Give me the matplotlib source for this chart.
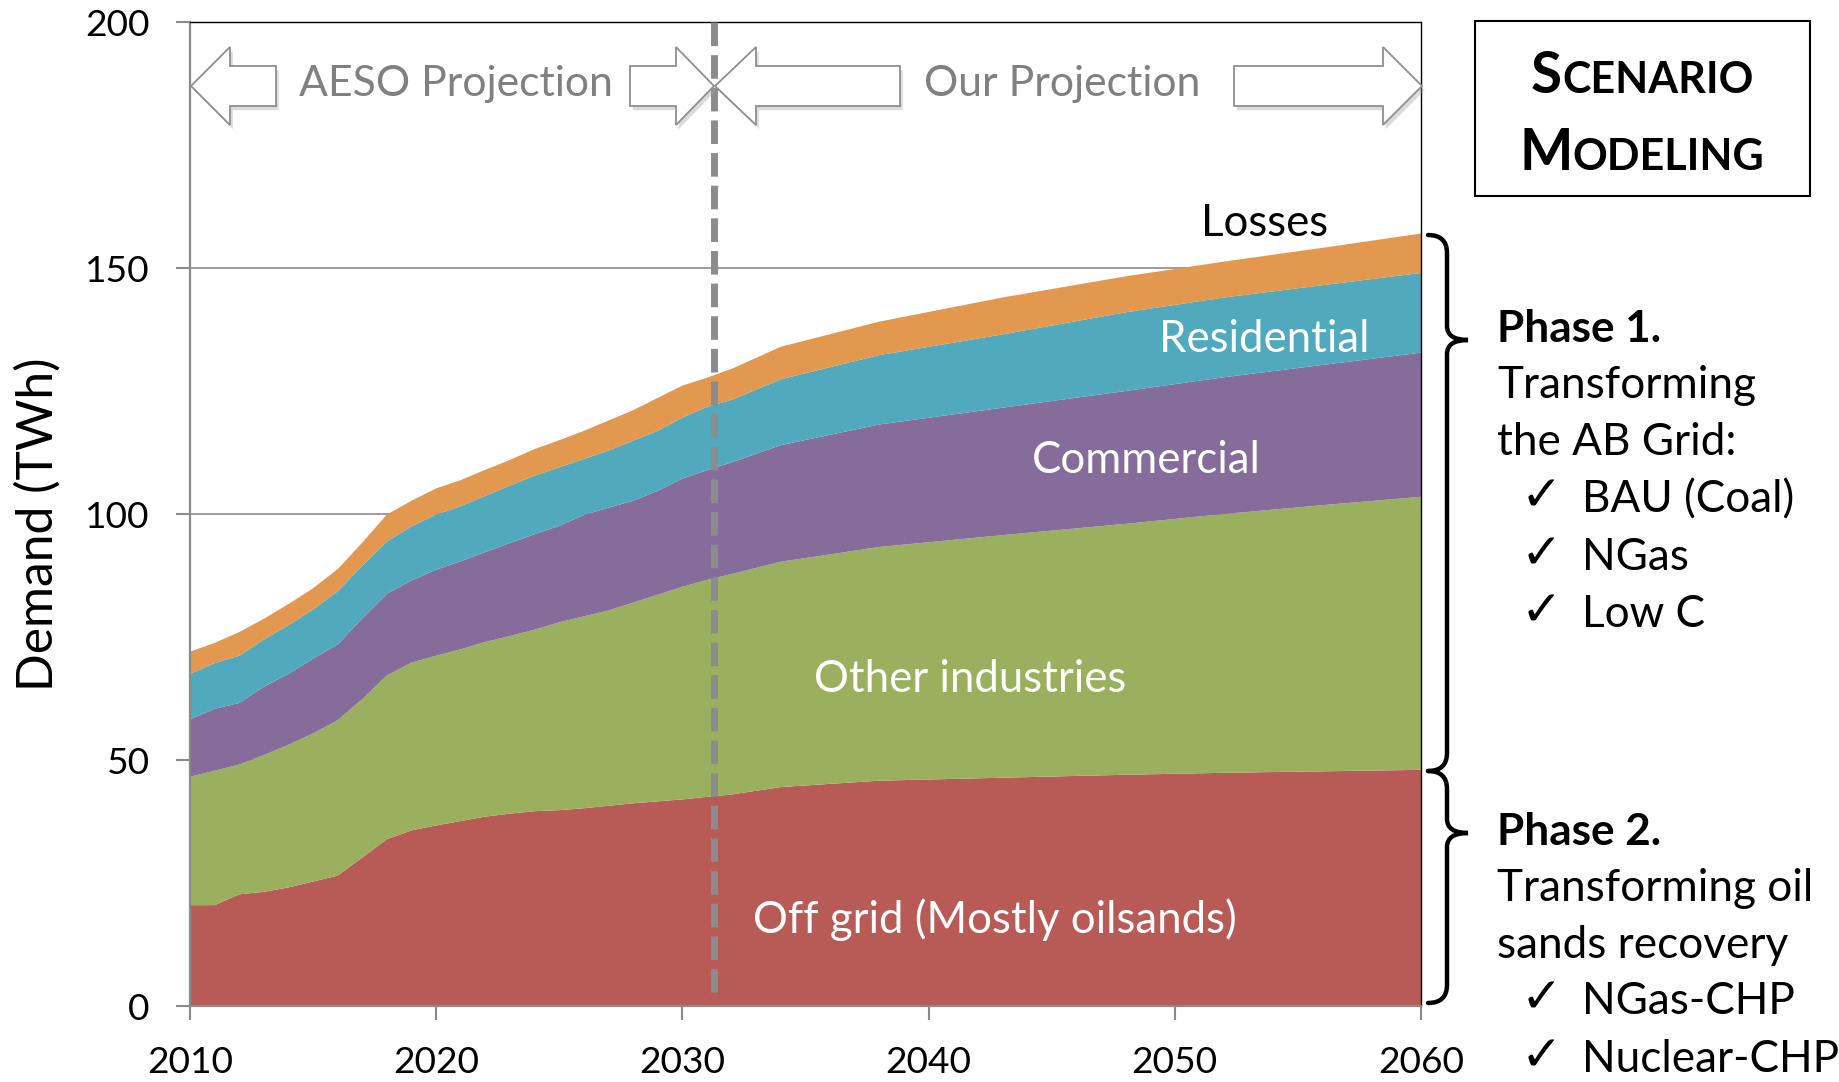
import matplotlib
matplotlib.use('Agg')
import matplotlib.pyplot as plt
from matplotlib.patches import Polygon, Rectangle, PathPatch
from matplotlib.path import Path
import matplotlib.patheffects as pe

# ---------------- data ----------------
years = [2010, 2011, 2012, 2013, 2014, 2015, 2016, 2017, 2018, 2019, 2020,
         2021, 2022, 2023, 2024, 2025, 2026, 2027, 2028, 2029, 2030, 2031,
         2032, 2034, 2038, 2043, 2048, 2052, 2056, 2060]
off_grid = [20.5, 20.5, 22.7, 23.2, 24.1, 25.3, 26.5, 30.2, 33.9, 35.7, 36.7,
            37.6, 38.5, 39.1, 39.6, 39.8, 40.2, 40.7, 41.2, 41.6, 42.0, 42.5,
            43.0, 44.5, 45.8, 46.4, 47.0, 47.4, 47.7, 48.0]
other_industries = [26.1, 27.3, 26.4, 27.8, 29.0, 30.1, 31.6, 32.2, 33.3, 34.1, 34.5,
                    34.9, 35.5, 36.1, 36.9, 38.2, 39.0, 39.7, 40.8, 42.0, 43.2, 44.1,
                    44.8, 45.8, 47.5, 49.3, 51.0, 52.6, 54.1, 55.5]
commercial = [11.7, 12.6, 12.5, 13.9, 14.4, 15.2, 15.4, 16.4, 16.6, 16.7, 17.5,
              17.9, 18.3, 18.9, 19.4, 19.6, 20.6, 20.9, 20.7, 21.1, 22.0, 22.3,
              22.7, 23.7, 24.9, 25.9, 27.0, 27.8, 28.5, 29.3]
residential = [9.2, 9.3, 9.6, 9.6, 9.9, 10.0, 10.8, 10.7, 10.6, 11.0, 11.2,
               11.2, 11.4, 11.7, 11.9, 11.9, 11.4, 11.6, 12.2, 12.2, 12.4, 12.9,
               12.7, 13.4, 14.1, 14.9, 16.0, 16.2, 16.2, 16.2]
losses = [4.5, 4.1, 4.8, 4.2, 4.3, 4.3, 4.5, 4.7, 5.5, 5.2, 5.3,
          5.3, 5.3, 5.2, 5.4, 5.5, 5.7, 6.1, 6.2, 6.7, 6.5, 5.9,
          6.3, 6.6, 6.8, 7.5, 7.3, 7.3, 7.6, 8.0]
series_names = ['Off grid (Mostly oilsands)', 'Other industries', 'Commercial',
                'Residential', 'Losses']
colors = ['#B85B56', '#9BB05F', '#856C9B', '#51A9BE', '#E2984F']
x_ticks = [2010, 2020, 2030, 2040, 2050, 2060]
y_ticks = [0, 50, 100, 150, 200]
split_year = 2031.3
y_label = 'Demand (TWh)'
left_proj = 'AESO Projection'
right_proj = 'Our Projection'
phase1 = ['Transforming', 'the AB Grid:']
phase1_items = ['BAU (Coal)', 'NGas', 'Low C']
phase2 = ['Transforming oil', 'sands recovery']
phase2_items = ['NGas-CHP', 'Nuclear-CHP']

# ---------------- figure ----------------
W, H = 1839, 1082
plt.rcParams['font.family'] = ['Lato', 'DejaVu Sans']
fig = plt.figure(figsize=(W / 100, H / 100), dpi=100)
renderer = fig.canvas.get_renderer()


def fx(x):
    return x / W


def fy(y):
    return 1 - y / H


def fit_size(s, target, weight='normal', family=None):
    kw = dict(fontsize=20, weight=weight)
    if family:
        kw['family'] = family
    t = fig.text(0, 0, s, **kw)
    w = t.get_window_extent(renderer).width
    t.remove()
    return 20 * target / w


ax = fig.add_axes([fx(190), fy(1006), (1421 - 190) / W, (1006 - 22) / H])
ax.stackplot(years, off_grid, other_industries, commercial, residential, losses,
             colors=colors, labels=series_names, linewidth=0)
ax.set_xlim(2010, 2060)
ax.set_ylim(0, 200)
ax.set_xticks(x_ticks)
ax.set_yticks(y_ticks)
ax.set_axisbelow(True)
ax.yaxis.grid(True, color='#8c8c8c', lw=1.2)
for s in ['left', 'bottom']:
    ax.spines[s].set_color('#8a8a8a')
    ax.spines[s].set_linewidth(1.6)
for s in ['top', 'right']:
    ax.spines[s].set_color('black')
    ax.spines[s].set_linewidth(1.0)

tick_fs = fit_size('2010', 86)
ax.tick_params(axis='both', direction='out', length=10, width=1.5,
               color='#8a8a8a', labelsize=tick_fs, pad=19)

# dashed split line
ax.axvline(split_year, ymin=1.0, ymax=0.011, color='#8c8c8c', lw=5,
           dashes=(3.4, 1.3), zorder=3)

# y label
ylab_fs = fit_size(y_label, 334)
fig.text(fx(38), fy(524), y_label, rotation=90, ha='center', va='center',
         fontsize=ylab_fs)

# projection arrows (pixel geometry)
def block_arrow(tip, base, end, yc=86, hh=39, sh=20):
    pts = [(tip, yc), (base, yc - hh), (base, yc - sh), (end, yc - sh),
           (end, yc + sh), (base, yc + sh), (base, yc + hh)]
    poly = Polygon([(fx(a), fy(b)) for a, b in pts], closed=True,
                   transform=fig.transFigure, facecolor='white',
                   edgecolor='#8f8f8f', lw=1.3, zorder=5)
    poly.set_path_effects([pe.SimplePatchShadow(offset=(2, -3), shadow_rgbFace='#999999',
                                                alpha=0.35), pe.Normal()])
    fig.add_artist(poly)


block_arrow(191, 230, 276)
block_arrow(714, 676, 630)
block_arrow(715, 756, 900)
block_arrow(1422, 1383, 1234)

proj_fs = fit_size(left_proj, 314)
fig.text(fx(389 * 1.1728), fy(84), left_proj, ha='center', va='center',
         fontsize=proj_fs, color='#808080')
fig.text(fx(906 * 1.1728), fy(84), right_proj, ha='center', va='center',
         fontsize=proj_fs, color='#808080')

# band labels
band_fs = (fit_size('Off grid (Mostly oilsands)', 487) + fit_size('Other industries', 313)
           + fit_size('Commercial', 230) + fit_size('Residential', 210)) / 4
fig.text(fx(995), fy(933), series_names[0], ha='center', va='baseline',
         fontsize=band_fs, color='white')
fig.text(fx(970), fy(692), series_names[1], ha='center', va='baseline',
         fontsize=band_fs, color='white')
fig.text(fx(1146), fy(473), series_names[2], ha='center', va='baseline',
         fontsize=band_fs, color='white')
fig.text(fx(1264), fy(352), series_names[3], ha='center', va='baseline',
         fontsize=band_fs, color='white')
fig.text(fx(1265), fy(236), series_names[4], ha='center', va='baseline',
         fontsize=band_fs, color='black')

# Scenario modeling box
fig.add_artist(Rectangle((fx(1475), fy(196)), (1810 - 1475) / W, (196 - 21) / H,
                         transform=fig.transFigure, fill=False, edgecolor='black', lw=1.5))


def smallcaps(word, xc, ybase, size, ratio=0.76, draw=True):
    t1 = fig.text(0, fy(ybase), word[0], fontsize=size, weight='bold', va='baseline')
    t2 = fig.text(0, fy(ybase), word[1:], fontsize=size * ratio, weight='bold', va='baseline')
    w1 = t1.get_window_extent(renderer).width
    w2 = t2.get_window_extent(renderer).width
    x0 = xc - (w1 + w2) / 2
    t1.set_x(fx(x0))
    t2.set_x(fx(x0 + w1))
    if not draw:
        t1.remove()
        t2.remove()
    return w1 + w2


wtest = smallcaps('SCENARIO', 0, 0, 20, draw=False)
sc_fs = 20 * 223 / wtest
smallcaps('SCENARIO', 1642, 93, sc_fs)
smallcaps('MODELING', 1642, 170, sc_fs)

# braces
def brace(x0, x1, x2, ytop, ytip, ybot, r=18, rm=14):
    v = [(x0, ytop), (x1, ytop), (x1, ytop + r),
         (x1, ytip - rm), (x1, ytip), (x2, ytip),
         (x1, ytip), (x1, ytip + rm),
         (x1, ybot - r), (x1, ybot), (x0, ybot)]
    c = [Path.MOVETO, Path.CURVE3, Path.CURVE3, Path.LINETO, Path.CURVE3, Path.CURVE3,
         Path.CURVE3, Path.CURVE3, Path.LINETO, Path.CURVE3, Path.CURVE3]
    p = Path([(fx(a), fy(b)) for a, b in v], c)
    fig.add_artist(PathPatch(p, transform=fig.transFigure, fill=False,
                             edgecolor='black', lw=3.2, capstyle='round'))


brace(1428, 1447, 1468, 235, 340, 771)
brace(1428, 1447, 1468, 771, 833, 1003)

# right side text
rt_fs = fit_size(phase2[0], 317)
check_fs = rt_fs * 1.12


def block(title, lines, items, ys):
    fig.text(fx(1497), fy(ys[0]), title, fontsize=rt_fs, weight='bold', va='baseline')
    k = 1
    for ln in lines:
        fig.text(fx(1497), fy(ys[k]), ln, fontsize=rt_fs, va='baseline')
        k += 1
    for it in items:
        fig.text(fx(1521), fy(ys[k] - 2), '\u2713', fontsize=check_fs, va='baseline',
                 weight='bold', family=['DejaVu Sans'])
        fig.text(fx(1582), fy(ys[k]), it, fontsize=rt_fs, va='baseline')
        k += 1


block('Phase 1.', phase1, phase1_items, [342, 398, 455, 512, 570, 627])
block('Phase 2.', phase2, phase2_items, [845, 901, 958, 1014, 1072])

fig.savefig('out.png', dpi=100)
